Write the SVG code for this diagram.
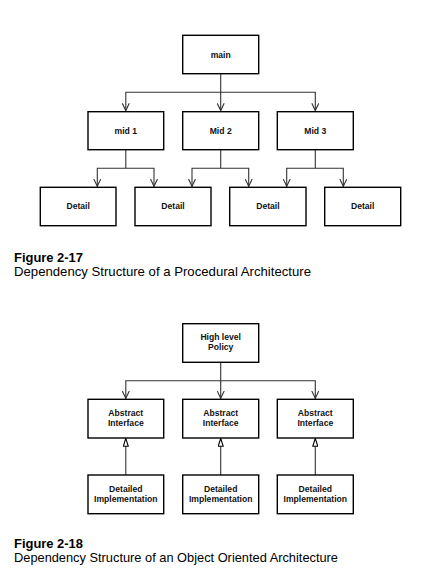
<svg xmlns="http://www.w3.org/2000/svg" width="441" height="573" viewBox="0 0 441 573">
<style>
.box{fill:#fff;stroke:#000;stroke-width:1.4}
.t{font-family:"Liberation Sans",Arial,sans-serif;font-weight:bold;font-size:8.6px;fill:#111;text-anchor:middle}
.ln{fill:none;stroke:#333;stroke-width:1.1}
.cap{font-family:"Liberation Sans",Arial,sans-serif;font-size:12.8px;fill:#000}
.capb{font-family:"Liberation Sans",Arial,sans-serif;font-size:12.8px;font-weight:bold;fill:#000}
</style>
<defs>
<marker id="v" viewBox="0 0 8 8" markerWidth="8" markerHeight="8" refX="8" refY="4" markerUnits="userSpaceOnUse" orient="auto-start-reverse">
<path d="M0.5,0.5 L7.8,4 L0.5,7.5" fill="none" stroke="#333" stroke-width="1.1"/>
</marker>
<marker id="tri" viewBox="0 0 6 9" markerWidth="6" markerHeight="9" refX="3" refY="0.5" markerUnits="userSpaceOnUse" orient="0">
<path d="M3,0.5 L5.5,8.5 L0.5,8.5 Z" fill="#fff" stroke="#000" stroke-width="1.1"/>
</marker>
</defs>
<g id="connectors">
<path class="ln" d="M220.7,73.7 V110.8" marker-end="url(#v)"/>
<path class="ln" d="M125.8,110.8 V92.3 H315.3 V110.8" marker-start="url(#v)" marker-end="url(#v)"/>
<path class="ln" d="M125.8,149.7 V168.3"/>
<path class="ln" d="M97.3,186.5 V168.3 H154 V186.5" marker-start="url(#v)" marker-end="url(#v)"/>
<path class="ln" d="M220.7,149.7 V168.3"/>
<path class="ln" d="M192,186.5 V168.3 H248.7 V186.5" marker-start="url(#v)" marker-end="url(#v)"/>
<path class="ln" d="M315.3,149.7 V168.3"/>
<path class="ln" d="M286.7,186.5 V168.3 H343.3 V186.5" marker-start="url(#v)" marker-end="url(#v)"/>
<path class="ln" d="M220.7,362.3 V398.5" marker-end="url(#v)"/>
<path class="ln" d="M125.8,398.5 V380.7 H315.3 V398.5" marker-start="url(#v)" marker-end="url(#v)"/>
<path class="ln" d="M125.8,475 V438.3" marker-end="url(#tri)"/>
<path class="ln" d="M220.7,475 V438.3" marker-end="url(#tri)"/>
<path class="ln" d="M315.3,475 V438.3" marker-end="url(#tri)"/>
</g>
<g id="main"><rect class="box" x="182.7" y="35.3" width="76" height="38.4"/><text class="t" x="220.7" y="57.5">main</text></g>
<g id="mid1"><rect class="box" x="88" y="111.7" width="75.7" height="38"/><text class="t" x="125.8" y="133.5">mid 1</text></g>
<g id="mid2"><rect class="box" x="182.7" y="111.7" width="76" height="38"/><text class="t" x="220.7" y="133.5">Mid 2</text></g>
<g id="mid3"><rect class="box" x="277.3" y="111.7" width="76" height="38"/><text class="t" x="315.3" y="133.5">Mid 3</text></g>
<g id="detail1"><rect class="box" x="40.3" y="187.3" width="75.7" height="38.4"/><text class="t" x="78.2" y="209">Detail</text></g>
<g id="detail2"><rect class="box" x="135" y="187.3" width="76" height="38.4"/><text class="t" x="173" y="209">Detail</text></g>
<g id="detail3"><rect class="box" x="229.7" y="187.3" width="76.3" height="38.4"/><text class="t" x="267.9" y="209">Detail</text></g>
<g id="detail4"><rect class="box" x="324.7" y="187.3" width="76" height="38.4"/><text class="t" x="362.7" y="209">Detail</text></g>
<g id="caption1"><text class="capb" x="14" y="262" textLength="69" lengthAdjust="spacingAndGlyphs">Figure 2-17</text><text class="cap" x="14" y="275.5" textLength="297" lengthAdjust="spacingAndGlyphs">Dependency Structure of a Procedural Architecture</text></g>
<g id="policy"><rect class="box" x="182.7" y="323.7" width="76" height="38.6"/><text class="t" x="220.7" y="340">High level</text><text class="t" x="220.7" y="350">Policy</text></g>
<g id="abstract1"><rect class="box" x="88" y="399.3" width="75.7" height="38.7"/><text class="t" x="125.8" y="416">Abstract</text><text class="t" x="125.8" y="426">Interface</text></g>
<g id="abstract2"><rect class="box" x="182.7" y="399.3" width="76" height="38.7"/><text class="t" x="220.7" y="416">Abstract</text><text class="t" x="220.7" y="426">Interface</text></g>
<g id="abstract3"><rect class="box" x="277.3" y="399.3" width="76" height="38.7"/><text class="t" x="315.3" y="416">Abstract</text><text class="t" x="315.3" y="426">Interface</text></g>
<g id="impl1"><rect class="box" x="88" y="475" width="75.7" height="38.7"/><text class="t" x="125.8" y="492">Detailed</text><text class="t" x="125.8" y="502">Implementation</text></g>
<g id="impl2"><rect class="box" x="182.7" y="475" width="76" height="38.7"/><text class="t" x="220.7" y="492">Detailed</text><text class="t" x="220.7" y="502">Implementation</text></g>
<g id="impl3"><rect class="box" x="277.3" y="475" width="76" height="38.7"/><text class="t" x="315.3" y="492">Detailed</text><text class="t" x="315.3" y="502">Implementation</text></g>
<g id="caption2"><text class="capb" x="14" y="548.3" textLength="69" lengthAdjust="spacingAndGlyphs">Figure 2-18</text><text class="cap" x="14" y="562" textLength="324" lengthAdjust="spacingAndGlyphs">Dependency Structure of an Object Oriented Architecture</text></g>
</svg>
